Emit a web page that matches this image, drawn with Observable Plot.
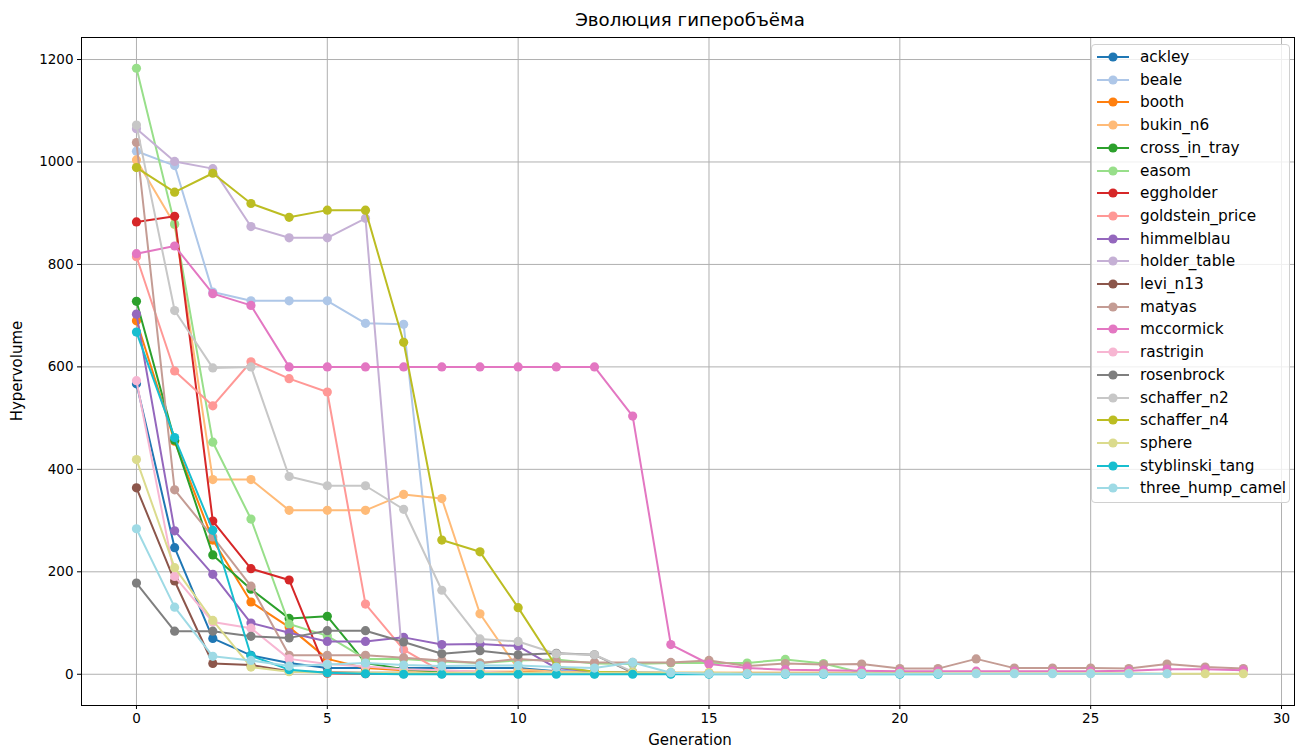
<!DOCTYPE html>
<html><head><meta charset="utf-8">
<script src="https://cdn.jsdelivr.net/npm/d3@7"></script>
<script src="https://cdn.jsdelivr.net/npm/@observablehq/plot@0.6"></script>
<style>
body{margin:0;background:#fff;font-family:"DejaVu Sans",sans-serif;}
#wrap{position:relative;width:1295px;height:749px;overflow:hidden;}
#title{position:absolute;left:81px;width:1218px;top:9px;text-align:center;font-size:18.2px;line-height:22px;color:#000;}
#chart{position:absolute;left:0;top:30px;}
#xlabel{position:absolute;left:81px;width:1218px;top:733px;text-align:center;font-size:15px;line-height:15px;color:#000;}
#ylabel{position:absolute;left:17px;top:371px;transform:translate(-50%,-50%) rotate(-90deg);font-size:15px;line-height:18px;color:#000;white-space:nowrap;}
#legend{position:absolute;left:1091px;top:44px;width:197px;height:457px;border:1px solid #d0d0d0;border-radius:4px;background:rgba(255,255,255,0.8);}
.row{position:absolute;left:0;height:22px;width:197px;}
.row svg{position:absolute;left:0;top:0;}
.row span{position:absolute;left:48px;top:2px;font-size:15.3px;line-height:18px;color:#000;white-space:nowrap;}
</style></head><body>
<div id="wrap"><div id="title">Эволюция гиперобъёма</div><div id="chart"></div><div id="xlabel">Generation</div><div id="ylabel">Hypervolume</div><div id="legend"></div></div>
<script>
const seriesNames = ["ackley","beale","booth","bukin_n6","cross_in_tray","easom","eggholder","goldstein_price","himmelblau","holder_table","levi_n13","matyas","mccormick","rastrigin","rosenbrock","schaffer_n2","schaffer_n4","sphere","styblinski_tang","three_hump_camel"];
const seriesColors = ["#1f77b4","#aec7e8","#ff7f0e","#ffbb78","#2ca02c","#98df8a","#d62728","#ff9896","#9467bd","#c5b0d5","#8c564b","#c49c94","#e377c2","#f7b6d2","#7f7f7f","#c7c7c7","#bcbd22","#dbdb8d","#17becf","#9edae5"];
const xTicks = [0,5,10,15,20,25,30];
const yTicks = [0,200,400,600,800,1000,1200];

const ackley = [567,247,70,37,22,12,12,12,12,12,12,6,4,2,1];
const beale = [1021,993,746,729,729,729,685,683,3];
const booth = [690,455,262,141,92,30,12,8,6,5,5,4,4,4,3,3,3,3,3,3,5,3];
const bukin_n6 = [1004,878,380,380,320,320,320,351,343,118,10,5,4,3];
const cross_in_tray = [728,457,233,166,109,113,22,10,5,3,2,2,1];
const easom = [1183,879,453,303,98,75,30,30,25,22,27,29,21,20,22,22,22,29,21,3,1,1];
const eggholder = [883,894,299,206,184,2,1,1,1,1,1];
const goldstein_price = [815,592,524,610,577,551,137,48,5,3,2,2];
const himmelblau = [703,280,195,100,81,64,64,72,58,59,55,12,5,3];
const holder_table = [1065,1001,987,874,852,852,890,3,2,2];
const levi_n13 = [364,182,21,18,6,4,3,3,2,2];
const matyas = [1038,360,268,172,37,37,37,32,27,22,30,25,23,23,23,27,16,21,19,20,11,11,30,12,12,12,11,20,14,11];
const mccormick = [821,836,743,720,600,600,600,600,600,600,600,600,600,504,58,20,12,9,8,7,6,6,6,6,6,6,7,10,10,8];
const rastrigin = [573,191,102,90,30,20,15,10,8,5,3,3,2];
const rosenbrock = [178,84,84,74,71,85,85,63,40,46,38,41,38,3,2];
const schaffer_n2 = [1072,710,598,600,386,368,368,322,164,69,64,40,38,5,3];
const schaffer_n4 = [989,941,978,919,892,906,906,648,262,239,130,15,5,3,2];
const sphere = [419,208,105,14,5,3,3,3,3,3,3,3,3,3,3,3,2,2,2,2,2,2,2,2,2,2,2,1,1,1];
const styblinski_tang = [668,462,281,36,9,3,1,0,0,0,0,0,0,0,0,0,0,0,0,0,0,0];
const three_hump_camel = [284,131,35,27,16,19,22,18,16,17,17,14,12,23,3,1,1,1,1,1,1,1,1,1,1,1,1,1];

const seriesValues = [ackley,beale,booth,bukin_n6,cross_in_tray,easom,eggholder,goldstein_price,himmelblau,holder_table,levi_n13,matyas,mccormick,rastrigin,rosenbrock,schaffer_n2,schaffer_n4,sphere,styblinski_tang,three_hump_camel];

const marks = [
  Plot.gridX(xTicks, {stroke:"#b0b0b0", strokeOpacity:1, strokeWidth:1}),
  Plot.gridY(yTicks, {stroke:"#b0b0b0", strokeOpacity:1, strokeWidth:1}),
];
seriesNames.forEach((name, i) => {
  const data = seriesValues[i].map((v, g) => ({g, v, name}));
  marks.push(Plot.line(data, {x:"g", y:"v", stroke:seriesColors[i], strokeWidth:2}));
  marks.push(Plot.dot(data, {x:"g", y:"v", fill:seriesColors[i], r:4.6}));
});
marks.push(Plot.frame({stroke:"#000", strokeWidth:1}));

const chart = Plot.plot({
  width:1295, height:719,
  marginLeft:81, marginRight:1, marginTop:7, marginBottom:44,
  style:{fontFamily:"DejaVu Sans, sans-serif", fontSize:"13.5px", color:"#000", background:"#fff"},
  x:{domain:[-1.44,30.34], ticks:xTicks, tickSize:4, tickPadding:4, label:null},
  y:{domain:[-61,1243], ticks:yTicks, tickSize:4, tickPadding:4, label:null, tickFormat:d=>String(d)},
  marks
});
document.getElementById("chart").appendChild(chart);

const legend = document.getElementById("legend");
seriesNames.forEach((name, i) => {
  const row = document.createElement("div");
  row.className = "row";
  row.style.top = (1 + i*22.7) + "px";
  row.innerHTML = `<svg width="44" height="22"><line x1="5" x2="37" y1="11" y2="11" stroke="${seriesColors[i]}" stroke-width="2"/><circle cx="21" cy="11" r="4.6" fill="${seriesColors[i]}"/></svg><span>${name}</span>`;
  legend.appendChild(row);
});
</script>
</body></html>
